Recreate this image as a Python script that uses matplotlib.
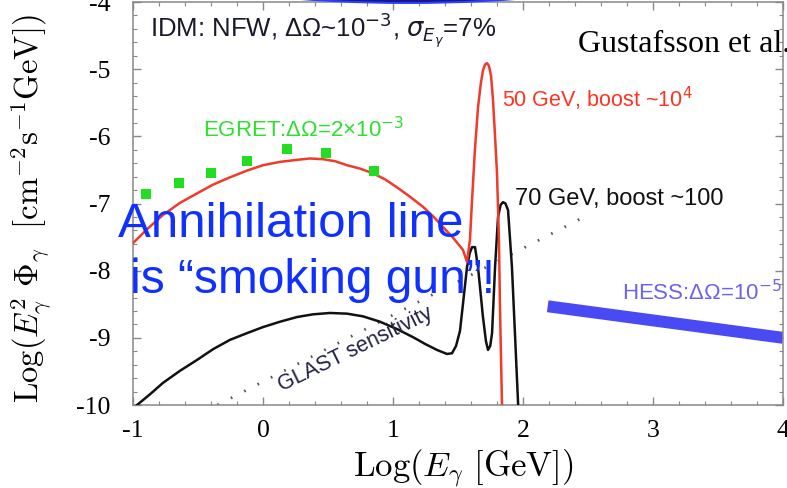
import matplotlib

matplotlib.use("Agg")

import matplotlib.pyplot as plt
from matplotlib.patches import Ellipse
from matplotlib.ticker import MultipleLocator

# 50 GeV line, boost ~1e4 (red)
red_x = [-1.0, -0.885, -0.769, -0.638, -0.508, -0.385, -0.254, -0.123, 0.0, 0.131,
         0.262, 0.36, 0.46, 0.554, 0.646, 0.746, 0.846, 0.938, 1.031, 1.131,
         1.231, 1.308, 1.385, 1.462, 1.538, 1.569, 1.592, 1.608, 1.630, 1.654,
         1.675, 1.692, 1.708, 1.723, 1.738, 1.754, 1.769, 1.785, 1.800, 1.815,
         1.823, 1.838, 1.842]
red_y = [-7.59, -7.37, -7.17, -6.99, -6.85, -6.72, -6.61, -6.51, -6.43, -6.38,
         -6.35, -6.33, -6.34, -6.37, -6.43, -6.48, -6.55, -6.64, -6.76, -6.90,
         -7.05, -7.19, -7.35, -7.51, -7.69, -7.87, -7.54, -6.95, -6.20, -5.57,
         -5.22, -5.02, -4.93, -4.91, -4.95, -5.10, -5.45, -6.00, -6.55, -7.54,
         -8.54, -9.97, -10.3]

# 70 GeV line, boost ~100 (black)
black_x = [-0.969, -0.869, -0.769, -0.638, -0.508, -0.385, -0.254, -0.123, 0.0, 0.131,
           0.262, 0.385, 0.515, 0.646, 0.769, 0.9, 1.031, 1.154, 1.246, 1.338,
           1.415, 1.454, 1.485, 1.515, 1.538, 1.569, 1.59, 1.608, 1.631, 1.654,
           1.692, 1.715, 1.731, 1.748, 1.762, 1.785, 1.808, 1.828, 1.846, 1.865,
           1.885, 1.915, 1.938, 1.962, 1.97]
black_y = [-10.0, -9.84, -9.67, -9.49, -9.33, -9.17, -9.03, -8.93, -8.84, -8.76,
           -8.69, -8.65, -8.63, -8.64, -8.68, -8.76, -8.87, -8.99, -9.09, -9.18,
           -9.24, -9.23, -9.12, -8.90, -8.50, -7.95, -7.74, -7.65, -7.65, -7.95,
           -8.69, -9.05, -9.18, -9.12, -8.93, -7.95, -7.20, -7.02, -6.98, -7.00,
           -7.10, -7.95, -8.93, -9.97, -10.3]

# EGRET points
egret_x = [-0.90, -0.646, -0.40, -0.123, 0.185, 0.485, 0.854]
egret_y = [-6.86, -6.70, -6.54, -6.37, -6.19, -6.25, -6.52]

# GLAST sensitivity (dotted)
glast_x = [-0.35, 2.44]
glast_y = [-10.0, -7.23]

# HESS band
hess_x = [2.19, 4.0]
hess_y = [-8.53, -9.0]

W, H = 787, 488
plt.rcParams["axes.unicode_minus"] = False
fig = plt.figure(figsize=(W / 100, H / 100), dpi=100)
fig.patch.set_facecolor("white")
ax = fig.add_axes([133 / W, (H - 405) / H, 650 / W, 403 / H])

ax.plot(glast_x, glast_y, color="#555555", lw=2.0, dashes=(0.6, 4.8), zorder=2)
ax.plot(hess_x, hess_y, color="#4a4af5", lw=8.6, solid_capstyle="butt", zorder=2)
ax.plot(black_x, black_y, color="#111111", lw=1.8, zorder=3)
ax.plot(red_x, red_y, color="#f03a2a", lw=1.8, zorder=4)
ax.plot(egret_x, egret_y, "s", color="#22dd22", ms=7.2, mew=0, zorder=5)

ax.set_xlim(-1, 4)
ax.set_ylim(-10, -4)
ax.xaxis.set_major_locator(MultipleLocator(1))
ax.xaxis.set_minor_locator(MultipleLocator(0.2))
ax.yaxis.set_major_locator(MultipleLocator(1))
ax.yaxis.set_minor_locator(MultipleLocator(0.2))
ax.tick_params(which="both", direction="in", top=True, right=True, color="#888888")
ax.tick_params(which="major", length=6, width=1.0, labelsize=18.5)
ax.tick_params(which="minor", length=3, width=0.8)
ax.tick_params(axis="x", pad=11)
ax.tick_params(axis="y", pad=16)
for lab in ax.get_xticklabels() + ax.get_yticklabels():
    lab.set_fontfamily("Liberation Serif")
for sp in ax.spines.values():
    sp.set_color("#888888")
    sp.set_linewidth(1.1)

fig.text(353 / W, 1 - 477 / H, r"$\mathrm{Log}(E_\gamma\ [\mathrm{GeV}])$",
         fontsize=25, math_fontfamily="cm", ha="left", va="baseline")
fig.text(54 / W, 1 - 403 / H,
         r"$\mathrm{Log}(E_\gamma^2\ \Phi_\gamma\ \ [\mathrm{cm}^{-2}\mathrm{s}^{-1}\mathrm{GeV}])$",
         fontsize=23.5, math_fontfamily="cm", rotation=90, ha="right", va="bottom")

sans = "Liberation Sans"
ax.text(-0.869, -4.524, r"IDM: NFW, ΔΩ~10$^{-3}$, $\sigma_{E_\gamma}$=7%", fontsize=18.5,
        family=sans, math_fontfamily="dejavusans", color="#1a1a2a", va="baseline")
ax.text(2.423, -4.747, "Gustafsson et al.", fontsize=23, family="Liberation Serif",
        color="black", va="baseline", clip_on=False)
ax.text(-0.462, -6.01, r"EGRET:ΔΩ=2×10$^{-3}$", fontsize=16, family=sans,
        math_fontfamily="dejavusans", color="#2ee02e", va="baseline")
ax.text(1.838, -5.565, r"50 GeV, boost ~10$^4$", fontsize=15.5, family=sans,
        math_fontfamily="dejavusans", color="#ff3322", va="baseline")
ax.text(1.938, -7.024, "70 GeV, boost ~100", fontsize=17, family=sans,
        color="#111111", va="baseline")
ax.text(2.762, -8.44, r"HESS:ΔΩ=10$^{-5}$", fontsize=16, family=sans,
        math_fontfamily="dejavusans", color="#6b63f0", va="baseline")
ax.text(0.708, -9.18, "GLAST sensitivity", fontsize=15.5, family=sans, color="#222244",
        rotation=26, ha="center", va="center", rotation_mode="anchor")

ax.text(-1.115, -7.5, "Annihilation line", fontsize=35.5, family=sans, color="#1030ff",
        va="baseline", clip_on=False, zorder=10)
ax.text(-1.023, -8.333, "is \u201csmoking gun\u201d!", fontsize=34.5, family=sans,
        color="#1030ff", va="baseline", clip_on=False, zorder=10)

# edge of a slide callout peeking in at the top
fig.add_artist(Ellipse((408 / W, 1 + 96 / H), 772 / W, 200 / H,
                       transform=fig.transFigure, facecolor="#3040ff", edgecolor="none"))
fig.add_artist(Ellipse((408 / W, 1 + 98 / H), 772 / W, 200 / H,
                       transform=fig.transFigure, facecolor="#14188a", edgecolor="none"))

fig.savefig("out.png", dpi=100)
